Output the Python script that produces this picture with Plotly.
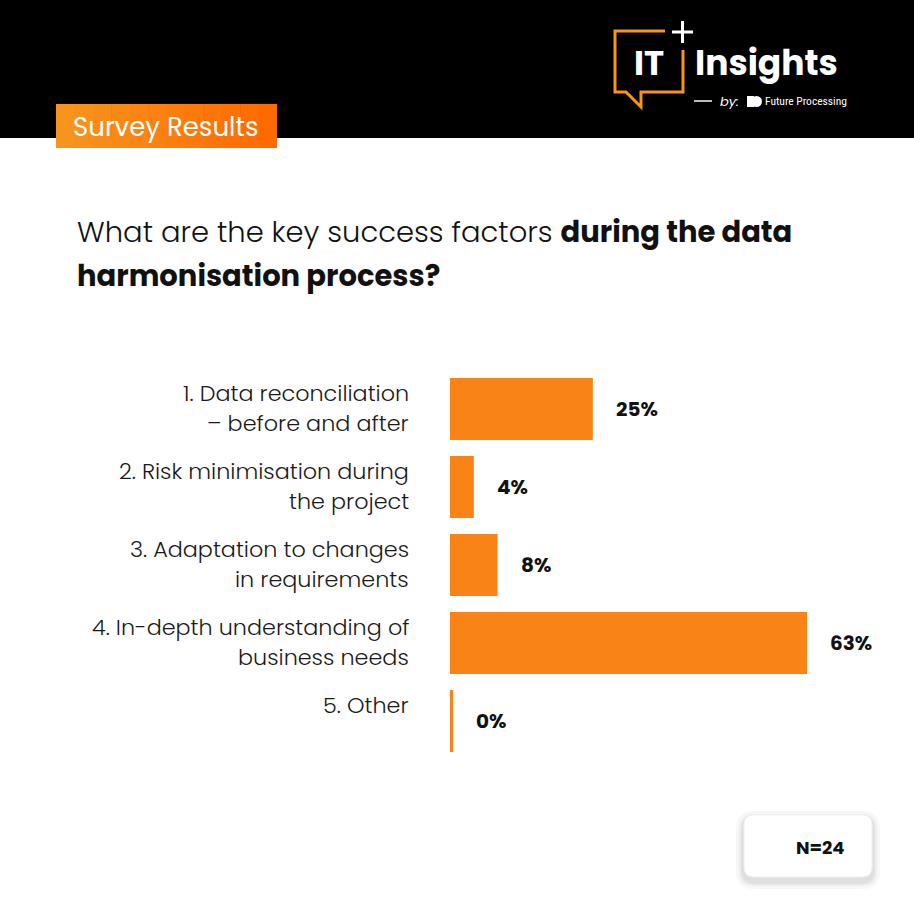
import plotly.graph_objects as go

# ---------------- data ----------------
categories = ["c1", "c2", "c3", "c4", "c5"]
labels = [
    ["1. Data reconciliation", "– before and after"],
    ["2. Risk minimisation during", "the project"],
    ["3. Adaptation to changes", "in requirements"],
    ["4. In-depth understanding of", "business needs"],
    ["5. Other"],
]
values = [25.0, 4.17, 8.33, 62.5, 0.0]
value_text = ["25%", "4%", "8%", "63%", "0%"]
n_text = "N=24"

# ---------------- geometry helpers ----------------
W, H = 914, 914
L, T = 450, 370
PW, PH = 464, 390

def px(x):
    return (x - L) / PW

def py(y):
    return (T + PH - y) / PH

FONT = "Poppins, Lato, 'Open Sans', sans-serif"
ORANGE = "#f98316"

# minimum visible stub for zero-valued bars
disp = [max(v, 0.55) for v in values]

fig = go.Figure()
fig.add_trace(go.Bar(
    x=disp, y=categories, orientation="h",
    marker=dict(color=ORANGE, line=dict(width=0)),
    hoverinfo="skip", showlegend=False,
))

shapes = []
annotations = []

# header black band
shapes.append(dict(type="rect", xref="paper", yref="paper",
                   x0=px(0), x1=px(W), y0=py(138), y1=py(0),
                   fillcolor="#000000", line=dict(width=0), layer="below"))
# Survey Results box (horizontal gradient approximated by strips)
x_start, x_end = 56, 277
nstrip = 12
c0 = (247, 148, 29)
c1 = (255, 106, 0)
for i in range(nstrip):
    a = x_start + (x_end - x_start) * i / nstrip
    b = x_start + (x_end - x_start) * (i + 1) / nstrip + 0.6
    t = i / (nstrip - 1)
    col = "rgb(%d,%d,%d)" % tuple(round(c0[k] + (c1[k] - c0[k]) * t) for k in range(3))
    shapes.append(dict(type="rect", xref="paper", yref="paper",
                       x0=px(a), x1=px(min(b, x_end)), y0=py(148), y1=py(104),
                       fillcolor=col, line=dict(width=0), layer="below"))
annotations.append(dict(xref="paper", yref="paper", x=px(71), y=py(127),
                        xanchor="left", yanchor="middle", showarrow=False,
                        text="Survey Results",
                        font=dict(family=FONT, size=26, color="#ffffff")))

# logo speech bubble
def path(points):
    return "M " + " L ".join("%f,%f" % (px(x), py(y)) for x, y in points)

shapes.append(dict(type="path", xref="paper", yref="paper",
                   path=path([(665, 31), (615, 31), (615, 92), (626, 92), (641, 107),
                              (641, 92), (683, 92), (683, 50)]),
                   line=dict(color="#f7941d", width=3)))
# plus sign
shapes.append(dict(type="line", xref="paper", yref="paper",
                   x0=px(672), x1=px(693), y0=py(32), y1=py(32),
                   line=dict(color="#ffffff", width=3)))
shapes.append(dict(type="line", xref="paper", yref="paper",
                   x0=px(682.5), x1=px(682.5), y0=py(21), y1=py(43),
                   line=dict(color="#ffffff", width=3)))
annotations.append(dict(xref="paper", yref="paper", x=px(649), y=py(63),
                        xanchor="center", yanchor="middle", showarrow=False,
                        text="<b>IT</b>",
                        font=dict(family=FONT, size=34, color="#ffffff")))
annotations.append(dict(xref="paper", yref="paper", x=px(693), y=py(63),
                        xanchor="left", yanchor="middle", showarrow=False,
                        text="<b>Insights</b>",
                        font=dict(family=FONT, size=34.5, color="#ffffff")))
shapes.append(dict(type="line", xref="paper", yref="paper",
                   x0=px(694), x1=px(712), y0=py(101), y1=py(101),
                   line=dict(color="#bbbbbb", width=2)))
annotations.append(dict(xref="paper", yref="paper", x=px(718), y=py(101),
                        xanchor="left", yanchor="middle", showarrow=False,
                        text="<i>by:</i>",
                        font=dict(family=FONT, size=13, color="#ffffff")))
shapes.append(dict(type="rect", xref="paper", yref="paper",
                   x0=px(747), x1=px(754), y0=py(107), y1=py(96),
                   fillcolor="#ffffff", line=dict(width=0)))
shapes.append(dict(type="circle", xref="paper", yref="paper",
                   x0=px(751), x1=px(762), y0=py(107), y1=py(96),
                   fillcolor="#ffffff", line=dict(width=0)))
annotations.append(dict(xref="paper", yref="paper", x=px(763), y=py(101),
                        xanchor="left", yanchor="middle", showarrow=False,
                        text="Future Processing",
                        font=dict(family="'Liberation Sans Narrow', 'Roboto Condensed', 'DejaVu Sans Condensed', sans-serif",
                                  size=11.5, color="#ffffff")))

# title
annotations.append(dict(xref="paper", yref="paper", x=px(75), y=py(232),
                        xanchor="left", yanchor="middle", showarrow=False, align="left",
                        text="What are the key success factors <b>during the data</b>",
                        font=dict(family=FONT, size=29, color="#111111", weight=300)))
annotations.append(dict(xref="paper", yref="paper", x=px(75), y=py(276),
                        xanchor="left", yanchor="middle", showarrow=False, align="left",
                        text="<b>harmonisation process?</b>",
                        font=dict(family=FONT, size=29, color="#111111")))

# category labels (top-aligned, right-aligned)
for cat, lines in zip(categories, labels):
    for j, line in enumerate(lines):
        annotations.append(dict(xref="paper", yref="y", x=px(411), y=cat,
                                xanchor="right", yanchor="middle", showarrow=False,
                                yshift=31 - 15 - 30 * j, text=line,
                                font=dict(family=FONT, size=22.3, color="#1a1a1a", weight=300)))

# value labels
for cat, v, txt in zip(categories, disp, value_text):
    annotations.append(dict(xref="x", yref="y", x=v, y=cat,
                            xanchor="left", yanchor="middle", showarrow=False,
                            xshift=21, text="<b>%s</b>" % txt,
                            font=dict(family=FONT, size=20, color="#111111")))

# N box with soft shadow
def rrect(x0, y0, x1, y1, r):
    return ("M %f,%f L %f,%f Q %f,%f %f,%f L %f,%f Q %f,%f %f,%f L %f,%f Q %f,%f %f,%f L %f,%f Q %f,%f %f,%f Z" % (
        px(x0 + r), py(y0), px(x1 - r), py(y0), px(x1), py(y0), px(x1), py(y0 + r),
        px(x1), py(y1 - r), px(x1), py(y1), px(x1 - r), py(y1),
        px(x0 + r), py(y1), px(x0), py(y1), px(x0), py(y1 - r),
        px(x0), py(y0 + r), px(x0), py(y0), px(x0 + r), py(y0)))

for k, op in [(8, 0.03), (5, 0.04), (3, 0.05)]:
    shapes.append(dict(type="path", xref="paper", yref="paper",
                       path=rrect(744 - k, 815 - k + 4, 872 + k, 877 + k + 4, 10 + k),
                       fillcolor="rgba(0,0,0,%f)" % op, line=dict(width=0)))
shapes.append(dict(type="path", xref="paper", yref="paper",
                   path=rrect(744, 815, 872, 877, 10),
                   fillcolor="#ffffff", line=dict(color="#f0f0f0", width=1)))
annotations.append(dict(xref="paper", yref="paper", x=px(820), y=py(847),
                        xanchor="center", yanchor="middle", showarrow=False,
                        text="<b>%s</b>" % n_text,
                        font=dict(family=FONT, size=18, color="#111111")))

fig.update_layout(
    width=W, height=H,
    margin=dict(l=L, r=W - L - PW, t=T, b=H - T - PH, pad=0),
    paper_bgcolor="#ffffff", plot_bgcolor="rgba(0,0,0,0)",
    bargap=0.205,
    xaxis=dict(range=[0, 81.2], visible=False, fixedrange=True),
    yaxis=dict(type="category", categoryorder="array", categoryarray=categories,
               autorange="reversed", visible=False, fixedrange=True),
    shapes=shapes, annotations=annotations,
    showlegend=False,
)

fig.write_html("out.html", config={"displayModeBar": False},
               post_script="document.body.style.margin='0';document.body.style.padding='0';")
